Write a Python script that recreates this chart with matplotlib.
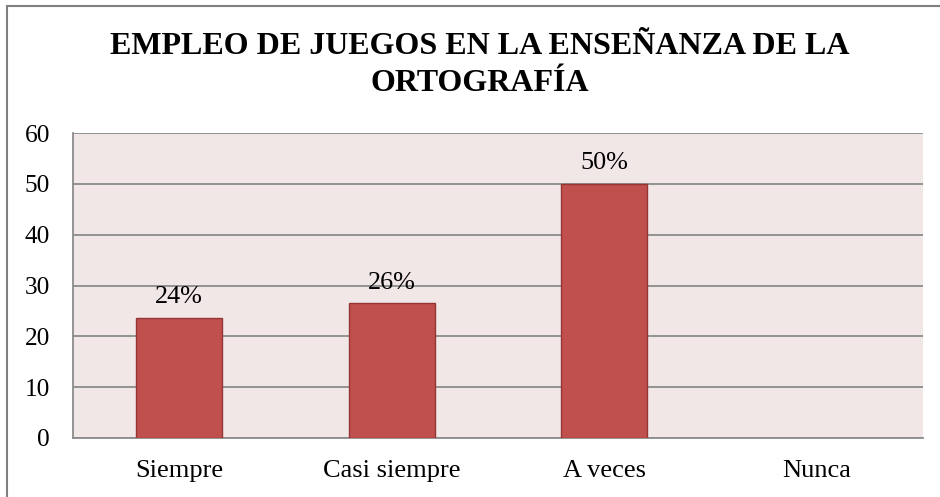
import matplotlib
matplotlib.use("Agg")
import matplotlib.pyplot as plt
from matplotlib.patches import Rectangle

categories = ["Siempre", "Casi siempre", "A veces", "Nunca"]
values = [23.6, 26.5, 50, 0]
labels = ["24%", "26%", "50%", ""]
yticks = [0, 10, 20, 30, 40, 50, 60]
title = "EMPLEO DE JUEGOS EN LA ENSEÑANZA DE LA\nORTOGRAFÍA"

plt.rcParams['font.family'] = ['Liberation Serif', 'DejaVu Serif']

fig = plt.figure(figsize=(9.4, 4.97), dpi=100)
W, H = 940, 497
ax = fig.add_axes([73 / W, (H - 438) / H, (923 - 73) / W, (438 - 133) / H])
ax.set_facecolor("#F2E7E7")

x = list(range(len(categories)))
for xi, v in zip(x, values):
    if v > 0:
        ax.bar(xi, v, width=0.405, color="#C0504D", edgecolor="#943634",
               linewidth=1.0, zorder=3)
for xi, v, lab in zip(x, values, labels):
    if lab:
        ax.text(xi, v + 1.9, lab, ha="center", va="bottom", fontsize=18.8, zorder=4)

ax.set_xlim(-0.5, 3.5)
ax.set_ylim(0, 60)
ax.set_yticks(yticks)
ax.set_xticks(x)
ax.set_xticklabels(categories)
ax.tick_params(axis="both", length=0)
ax.tick_params(axis="y", pad=16.5, labelsize=18.3)
ax.tick_params(axis="x", pad=16, labelsize=19)
ax.yaxis.grid(True, color="#8C8C8C", linewidth=1.3, zorder=1)
ax.set_axisbelow(True)
for s in ["top", "right"]:
    ax.spines[s].set_visible(False)
ax.spines["left"].set_color("#8C8C8C")
ax.spines["bottom"].set_color("#8C8C8C")
ax.spines["left"].set_linewidth(1.3)
ax.spines["bottom"].set_linewidth(1.3)

fig.text(480 / W, (H - 65) / H, title, ha="center", va="center", fontsize=23,
         fontweight="bold", linespacing=1.32)

# outer frame (cropped at right and bottom)
fig.patches.append(Rectangle((7 / W, -0.1), 1.1, (H - 6) / H + 0.1,
                             transform=fig.transFigure, fill=False,
                             edgecolor="#7F7F7F", linewidth=1.5))

fig.savefig("out.png", dpi=100)
